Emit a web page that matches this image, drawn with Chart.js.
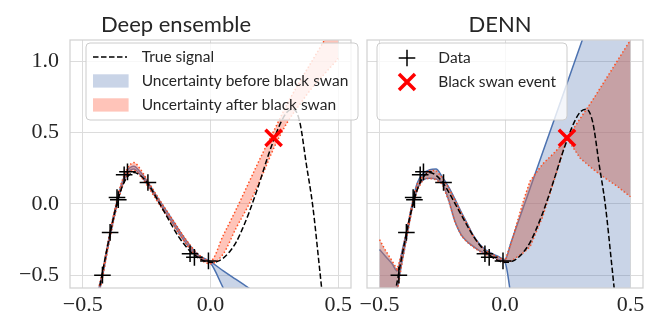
<!DOCTYPE html>
<html>
<head>
<meta charset="utf-8">
<script src="https://cdn.jsdelivr.net/npm/chart.js@4/dist/chart.umd.min.js"></script>
<style>
  body { margin: 0; background: #fff; }
  #wrap { position: relative; width: 658px; height: 320px; }
  canvas { position: absolute; top: 0; }
</style>
</head>
<body>
<div id="wrap">
  <canvas id="left" width="366" height="320" style="left:0px"></canvas>
  <canvas id="right" width="306" height="320" style="left:352px"></canvas>
</div>
<script>
// ticks
const xTickVals = [-0.5, 0, 0.5];
const xTickLabels = ['\u22120.5', '0.0', '0.5'];
const yTickVals = [-0.5, 0, 0.5, 1.0];
const yTickLabels = ['\u22120.5', '0.0', '0.5', '1.0'];

// observed points + black swan
const dataX = [-0.423, -0.393, -0.366, -0.361, -0.338, -0.325, -0.245, -0.080, -0.063, -0.008];
const dataY = [-0.500, -0.200, 0.045, 0.030, 0.205, 0.225, 0.150, -0.350, -0.375, -0.400];
const swanX = [0.247];
const swanY = [0.463];

// true signal
const trueX = [-0.45, -0.425, -0.4, -0.375, -0.35, -0.325, -0.3, -0.275, -0.25, -0.225, -0.2, -0.175, -0.15, -0.125, -0.1, -0.075, -0.05, -0.025, 0, 0.025, 0.05, 0.075, 0.1, 0.125, 0.15, 0.175, 0.2, 0.225, 0.25, 0.275, 0.3, 0.325, 0.35, 0.375, 0.4, 0.425, 0.45];
const trueY = [-0.74, -0.50, -0.27, -0.06, 0.10, 0.19, 0.22, 0.20, 0.155, 0.085, 0.005, -0.075, -0.155, -0.23, -0.29, -0.34, -0.375, -0.40, -0.41, -0.405, -0.38, -0.335, -0.27, -0.175, -0.065, 0.06, 0.195, 0.335, 0.46, 0.57, 0.645, 0.665, 0.57, 0.28, -0.01, -0.42, -0.85];

// deep ensemble bands
const deX = [-0.5, -0.475, -0.45, -0.425, -0.4, -0.375, -0.35, -0.325, -0.3, -0.275, -0.25, -0.2, -0.15, -0.1, -0.05, 0, 0.05, 0.1, 0.15, 0.2, 0.25, 0.3, 0.35, 0.4, 0.45, 0.5];
const deBeforeUp = [-1.25, -0.98, -0.70, -0.50, -0.265, -0.05, 0.13, 0.235, 0.265, 0.225, 0.165, 0.025, -0.11, -0.245, -0.355, -0.405, -0.47, -0.53, -0.59, -0.65, -0.71, -0.77, -0.83, -0.89, -0.95, -1.01];
const deBeforeLo = [-1.30, -1.02, -0.74, -0.53, -0.29, -0.075, 0.105, 0.215, 0.245, 0.205, 0.145, 0.005, -0.13, -0.265, -0.37, -0.415, -0.59, -0.76, -0.93, -1.10, -1.27, -1.44, -1.61, -1.78, -1.95, -2.12];
const deAfterUp = [-1.24, -0.97, -0.69, -0.49, -0.255, -0.04, 0.14, 0.25, 0.29, 0.245, 0.175, 0.03, -0.105, -0.24, -0.35, -0.40, -0.22, -0.04, 0.15, 0.34, 0.52, 0.70, 0.86, 1.01, 1.16, 1.31];
const deAfterLo = [-1.31, -1.03, -0.75, -0.54, -0.30, -0.085, 0.095, 0.205, 0.235, 0.195, 0.135, -0.005, -0.14, -0.27, -0.375, -0.42, -0.35, -0.17, -0.005, 0.19, 0.40, 0.57, 0.70, 0.82, 0.92, 1.02];

// DENN bands
const dnX = [-0.5, -0.475, -0.45, -0.43, -0.41, -0.39, -0.37, -0.35, -0.325, -0.3, -0.275, -0.25, -0.225, -0.2, -0.175, -0.15, -0.125, -0.1, -0.075, -0.05, -0.025, 0, 0.025, 0.05, 0.075, 0.1, 0.15, 0.2, 0.247, 0.3, 0.35, 0.4, 0.45, 0.5];
const dnBeforeUp = [-0.32, -0.37, -0.42, -0.47, -0.33, -0.175, 0.0, 0.145, 0.215, 0.24, 0.245, 0.19, 0.12, 0.035, -0.055, -0.14, -0.225, -0.285, -0.325, -0.35, -0.37, -0.39, -0.265, -0.14, -0.015, 0.11, 0.36, 0.61, 0.845, 1.11, 1.36, 1.61, 1.86, 2.11];
const dnBeforeLo = [-1.9, -1.35, -0.82, -0.6, -0.40, -0.215, -0.03, 0.10, 0.17, 0.18, 0.175, 0.145, 0.03, -0.12, -0.215, -0.265, -0.30, -0.33, -0.35, -0.37, -0.39, -0.41, -0.66, -0.91, -1.16, -1.41, -1.91, -2.41, -2.88, -3.41, -3.91, -4.41, -4.91, -5.41];
const dnAfterUp = [-0.25, -0.33, -0.40, -0.46, -0.34, -0.17, 0.005, 0.14, 0.205, 0.235, 0.235, 0.185, 0.115, 0.03, -0.06, -0.145, -0.23, -0.29, -0.33, -0.355, -0.375, -0.40, -0.27, -0.12, 0.03, 0.16, 0.28, 0.365, 0.46, 0.60, 0.73, 0.87, 1.01, 1.15];
const dnAfterLo = [-1.95, -1.4, -0.85, -0.62, -0.41, -0.22, -0.035, 0.095, 0.175, 0.18, 0.17, 0.14, 0.025, -0.125, -0.22, -0.27, -0.305, -0.335, -0.355, -0.375, -0.395, -0.415, -0.40, -0.37, -0.34, -0.30, -0.09, 0.19, 0.46, 0.32, 0.245, 0.18, 0.12, 0.05];

const TXT = '#262626';
const GRID = '#dcdcdc';
const BLUE = '#4c72b0';
const BLUE_FILL = 'rgba(76,114,176,0.3)';
const ORANGE = '#ff5022';
const SALMON_FILL = 'rgba(255,99,71,0.38)';
const RED_FILL = 'rgba(196,110,100,0.5)';

function pts(xs, ys) {
  return xs.map((x, i) => ({ x: x, y: ys[i] }));
}

function bandSets(xs, up, lo, fillColor, edge, dotted, order, smooth) {
  const base = {
    borderColor: edge,
    borderWidth: 1.5,
    borderDash: dotted ? [1.5, 2.2] : [],
    pointRadius: 0,
    cubicInterpolationMode: smooth ? 'monotone' : 'default',
    tension: 0,
    order: order
  };
  return [
    Object.assign({}, base, { data: pts(xs, up), fill: '+1', backgroundColor: fillColor }),
    Object.assign({}, base, { data: pts(xs, lo), fill: false })
  ];
}

function commonSets() {
  return [
    {
      data: pts(swanX, swanY), showLine: false, pointStyle: 'crossRot',
      pointRadius: 11.5, borderColor: '#ff0000', borderWidth: 3.5, order: 0
    },
    {
      data: pts(dataX, dataY), showLine: false, pointStyle: 'cross',
      pointRadius: 8.3, borderColor: '#000', borderWidth: 1.5, order: 1
    },
    {
      data: pts(trueX, trueY), borderColor: '#000', borderWidth: 1.5,
      borderDash: [5.5, 2.5], pointRadius: 0, cubicInterpolationMode: 'monotone',
      fill: false, order: 2
    }
  ];
}

// spines all round, like matplotlib
const spines = {
  id: 'spines',
  afterDraw(chart) {
    const a = chart.chartArea, ctx = chart.ctx;
    ctx.save();
    ctx.strokeStyle = '#d2d2d2';
    ctx.lineWidth = 1.25;
    ctx.strokeRect(a.left, a.top, a.right - a.left, a.bottom - a.top);
    ctx.restore();
  }
};

function boxLegend(box, rows) {
  return {
    id: 'boxLegend',
    afterDraw(chart) {
      const ctx = chart.ctx;
      ctx.save();
      ctx.beginPath();
      ctx.roundRect(box.x, box.y, box.w, box.h, 4);
      ctx.fillStyle = 'rgba(255,255,255,0.8)';
      ctx.fill();
      ctx.strokeStyle = '#cccccc';
      ctx.lineWidth = 1;
      ctx.stroke();
      rows.forEach(r => {
        const hx = box.x + 7, y = r.y;
        if (r.kind === 'dash') {
          ctx.beginPath();
          ctx.setLineDash([5.5, 2.5]);
          ctx.strokeStyle = '#000';
          ctx.lineWidth = 1.5;
          ctx.moveTo(hx, y); ctx.lineTo(hx + 34, y);
          ctx.stroke();
          ctx.setLineDash([]);
        } else if (r.kind === 'patch') {
          ctx.fillStyle = r.color;
          ctx.fillRect(hx, y - 6.7, 35.6, 13.3);
        } else if (r.kind === 'plus') {
          const cx = hx + 23;
          ctx.beginPath();
          ctx.strokeStyle = '#000';
          ctx.lineWidth = 1.5;
          ctx.moveTo(cx - 8.3, y); ctx.lineTo(cx + 8.3, y);
          ctx.moveTo(cx, y - 8.3); ctx.lineTo(cx, y + 8.3);
          ctx.stroke();
        } else if (r.kind === 'x') {
          const cx = hx + 23;
          ctx.beginPath();
          ctx.strokeStyle = '#ff0000';
          ctx.lineWidth = 3.5;
          ctx.moveTo(cx - 8, y - 8); ctx.lineTo(cx + 8, y + 8);
          ctx.moveTo(cx - 8, y + 8); ctx.lineTo(cx + 8, y - 8);
          ctx.stroke();
        }
        ctx.fillStyle = TXT;
        ctx.font = '15.5px Lato';
        ctx.textBaseline = 'middle';
        ctx.textAlign = 'left';
        ctx.fillText(r.label, r.tx, y);
      });
      ctx.restore();
    }
  };
}

function makeChart(id, title, datasets, showY, yWidth, padRight, plugins) {
  return new Chart(document.getElementById(id), {
    type: 'line',
    data: { datasets: datasets },
    options: {
      responsive: false,
      animation: false,
      layout: { padding: { left: 0, right: padRight, top: 0, bottom: 0 } },
      plugins: {
        legend: { display: false },
        tooltip: { enabled: false },
        title: {
          display: true, text: title, color: TXT,
          font: { family: 'Lato', size: 22, weight: 'normal' },
          padding: { top: 11.5, bottom: 2.1 }
        }
      },
      scales: {
        x: {
          type: 'linear', min: -0.55, max: 0.55,
          afterBuildTicks: s => { s.ticks = xTickVals.map(v => ({ value: v })); },
          afterFit: s => { s.height = 32; },
          grid: { color: GRID, lineWidth: 1, drawTicks: false },
          border: { display: false },
          ticks: {
            padding: 4, color: TXT,
            font: { family: 'Liberation Serif', size: 22 },
            callback: v => xTickLabels[xTickVals.indexOf(v)]
          }
        },
        y: {
          type: 'linear', min: -0.59, max: 1.15,
          afterBuildTicks: s => { s.ticks = yTickVals.map(v => ({ value: v })); },
          afterFit: s => { s.width = yWidth; },
          grid: { color: GRID, lineWidth: 1, drawTicks: false },
          border: { display: false },
          ticks: {
            display: showY, padding: 11, color: TXT,
            font: { family: 'Liberation Serif', size: 22 },
            callback: v => yTickLabels[yTickVals.indexOf(v)]
          }
        }
      }
    },
    plugins: plugins
  });
}

// Deep ensemble
const leftSets = commonSets()
  .concat(bandSets(deX, deAfterUp, deAfterLo, SALMON_FILL, ORANGE, true, 3, true))
  .concat(bandSets(deX, deBeforeUp, deBeforeLo, BLUE_FILL, BLUE, false, 5, true));
makeChart('left', 'Deep ensemble', leftSets, true, 70, 14, [
  spines,
  boxLegend({ x: 86, y: 43, w: 272, h: 77 }, [
    { kind: 'dash', label: 'True signal', y: 57, tx: 141.7 },
    { kind: 'patch', color: BLUE_FILL, label: 'Uncertainty before black swan', y: 81, tx: 141.7 },
    { kind: 'patch', color: SALMON_FILL, label: 'Uncertainty after black swan', y: 105, tx: 141.7 }
  ])
]);

// DENN
const rightSets = commonSets()
  .concat(bandSets(dnX, dnAfterUp, dnAfterLo, RED_FILL, ORANGE, true, 3, false))
  .concat(bandSets(dnX, dnBeforeUp, dnBeforeLo, BLUE_FILL, BLUE, false, 5, true));
makeChart('right', 'DENN', rightSets, false, 14, 10, [
  spines,
  boxLegend({ x: 25, y: 43, w: 190, h: 77 }, [
    { kind: 'plus', label: 'Data', y: 58, tx: 86.3 },
    { kind: 'x', label: 'Black swan event', y: 82, tx: 86.3 }
  ])
]);
</script>
</body>
</html>
